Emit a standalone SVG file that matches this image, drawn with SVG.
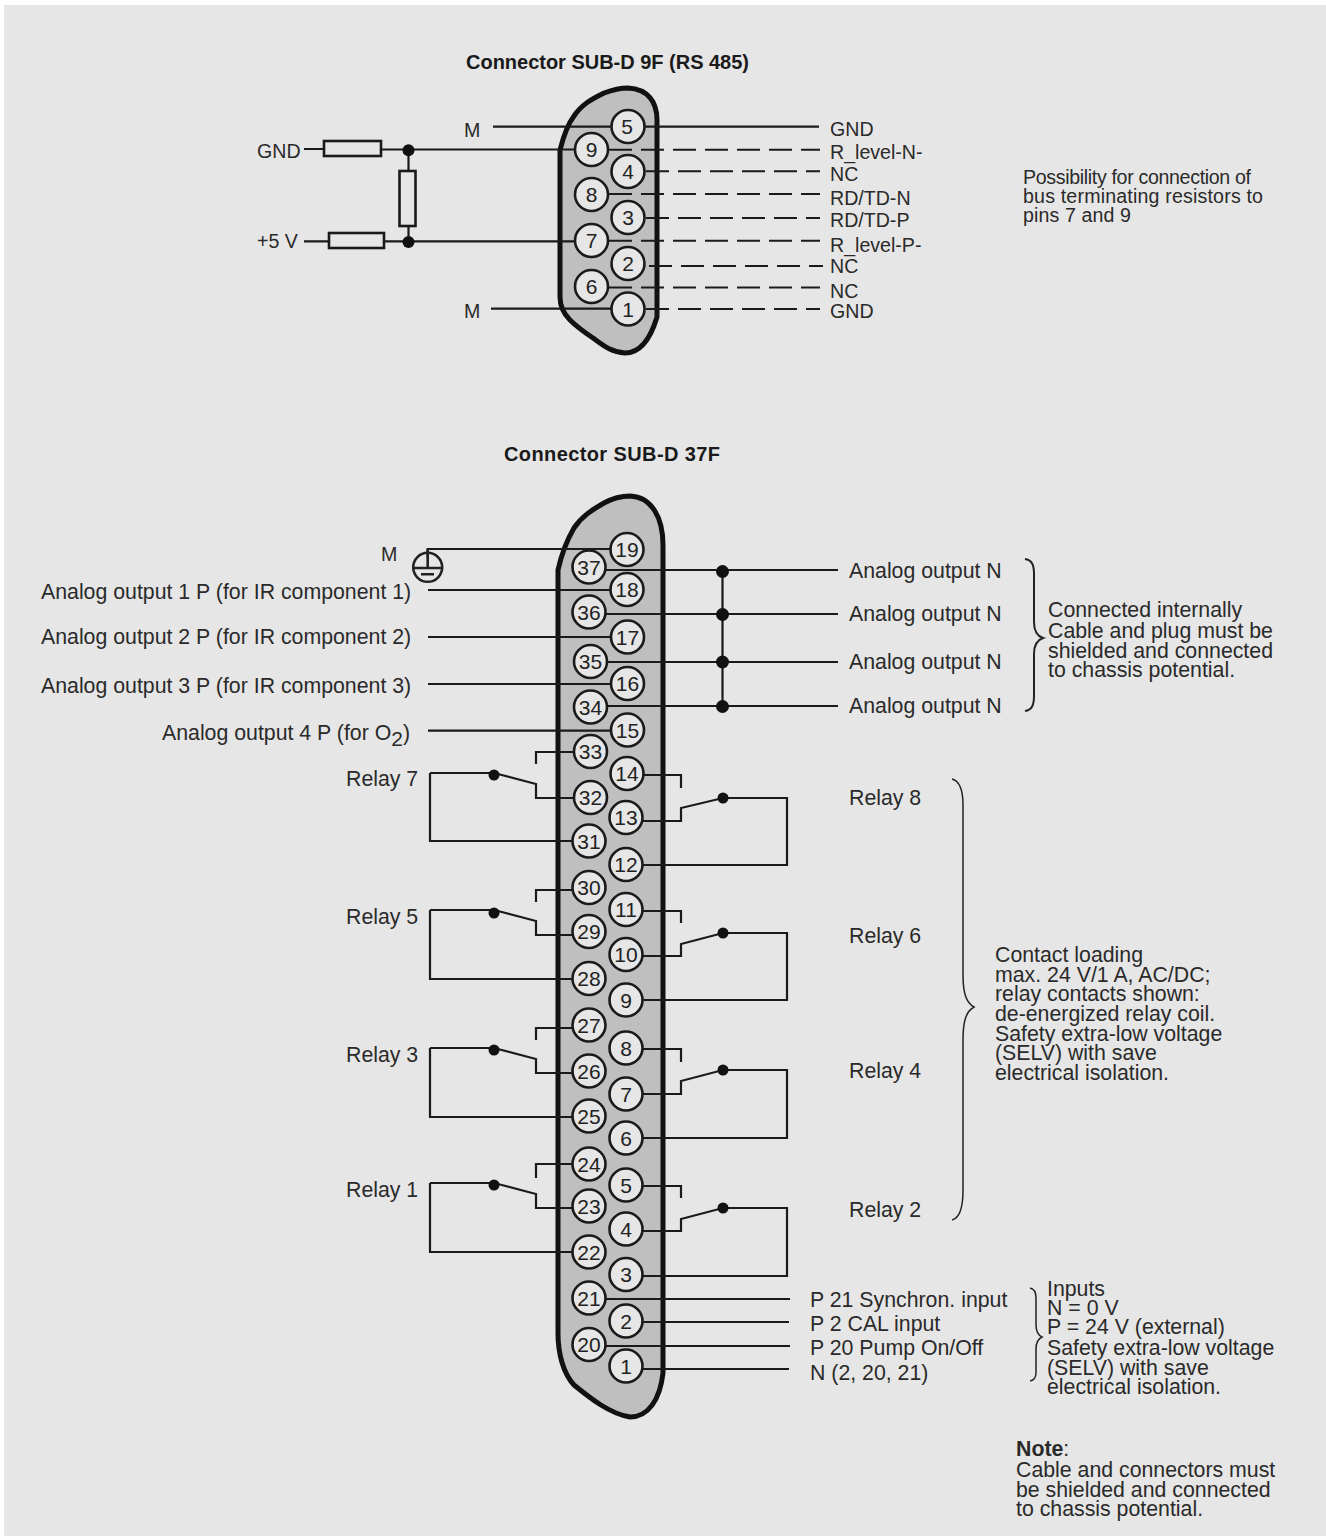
<svg xmlns="http://www.w3.org/2000/svg" width="1326" height="1536" viewBox="0 0 1326 1536">
<style>
text{font-family:"Liberation Sans",Arial,sans-serif;font-size:21.3px;fill:#2a2a2a}
.s{font-size:19.6px}
.t{font-weight:bold;font-size:20px;fill:#1a1a1a}
.n{font-size:21px;text-anchor:middle;fill:#222}
.pin{fill:#e6e6e6;stroke:#1a1a1a;stroke-width:2.6}
.body{fill:#bfbfbf;stroke:#111;stroke-width:5}
.w{fill:none;stroke:#1a1a1a;stroke-width:2.2}
.d{fill:none;stroke:#1a1a1a;stroke-width:2;stroke-dasharray:23 9}
.b{fill:none;stroke:#222;stroke-width:1.5}
.bb{fill:none;stroke:#222;stroke-width:2}
.r{fill:#e6e6e6;stroke:#1a1a1a;stroke-width:2.6}
.g{fill:none;stroke:#222;stroke-width:2.6}
.dot{fill:#111}
</style>
<rect x="4" y="5" width="1322" height="1531" fill="#e6e6e6"/>
<g id="titles">
<text class="t" x="466" y="69" textLength="283">Connector SUB-D 9F (RS 485)</text>
<text class="t" x="504" y="461" textLength="216">Connector SUB-D 37F</text>
</g>
<g id="body-9f"><path class="body" d="M560 150C564 134 568 124 574 116C582 104 592 99 604 93C612 90 620 88 628 88C648 89 657 102 657 120V317C651 337 642 353 625 353C611 352 604 346 593 338C584 332 577 327 570 320C563 313 560 305 560 297Z"/></g>
<g id="body-37f"><path class="body" d="M558 570C562 552 567 540 574 528C582 516 592 510 604 503C615 497 622 496 630 496C652 497 663 518 663 545V1373C660 1400 648 1417 630 1417C610 1414 590 1398 574 1385C563 1373 558 1353 558 1333Z"/></g>
<g id="connectors">
<path class="w" d="M304 149H323M381 149.500H575M408.500 149.500V172M408.500 226V241M304 241.300H328M384 241.300H575"/>
<path class="w" d="M493 126.700H612M491 308.700H612M644 126.700H819"/>
<g class="d">
<path d="M609 149.800H820"/>
<path d="M646 171.300H820"/>
<path d="M609 194H820"/>
<path d="M646 218H820"/>
<path d="M609 240.700H820"/>
<path d="M649 266H823"/>
<path d="M609 287.500H820"/>
<path d="M646 309H820"/>
</g>
<path class="w" d="M427.700 558V549H610M428 590H610M428 637H610M428 684H610M428 730.700H610"/>
<path class="w" d="M606 570H838M606 614H838M607 662H838M607 706H838M722.500 571V707"/>
<path class="w" d="M536 764V752H574M430 773H494L536 784V798H574M430 773V841H572"/>
<path class="w" d="M536 902V890H572M430 910H494L536 921V935H572M430 910V979H572"/>
<path class="w" d="M536 1040V1028H572M430 1048H494L536 1059V1073H572M430 1048V1117H572"/>
<path class="w" d="M536 1178V1164H572M430 1183H494L536 1194V1208H572M430 1183V1252H572"/>
<path class="w" d="M644 775H681V788M642 821H681V808L723 798H787V865H642"/>
<path class="w" d="M642 911H681V923M642 956H681V944L723 933H787V1000H642"/>
<path class="w" d="M642 1049H681V1062M642 1094H681V1081L723 1070H787V1138H642"/>
<path class="w" d="M642 1186H681V1198M642 1231H681V1219L723 1208H787V1276H642"/>
<path class="w" d="M605 1299H790M642 1322H789M605 1346H790M642 1369H789"/>
<g class="dot"><circle cx="408.500" cy="150.300" r="6"/><circle cx="408.500" cy="242" r="6"/>
<circle cx="722.500" cy="571.500" r="6.500"/><circle cx="722.500" cy="614.500" r="6.500"/><circle cx="722.500" cy="662" r="6.500"/><circle cx="722.500" cy="706.500" r="6.500"/>
<circle cx="494" cy="775" r="5.500"/><circle cx="494" cy="913" r="5.500"/><circle cx="494" cy="1050" r="5.500"/><circle cx="494" cy="1185" r="5.500"/>
<circle cx="723" cy="798" r="5.500"/><circle cx="723" cy="933" r="5.500"/><circle cx="723" cy="1070" r="5.500"/><circle cx="723" cy="1208" r="5.500"/></g>
</g>
<g id="resistors">
<rect class="r" x="324" y="141" width="57" height="15"/>
<rect class="r" x="329" y="233" width="55" height="15"/>
<rect class="r" x="399.500" y="171" width="16" height="55"/>
</g>
<g id="ground"><circle class="g" cx="427.700" cy="567.300" r="14.500"/><path class="g" d="M427.700 549V568M413 568H442M421 574.300H434"/></g>
<g id="pins-9f">
<g id="p9-5"><circle class="pin" cx="628" cy="126.500" r="16.500"/><text class="n" x="627" y="134">5</text></g>
<g id="p9-9"><circle class="pin" cx="591.500" cy="149.500" r="16.500"/><text class="n" x="591.500" y="157">9</text></g>
<g id="p9-4"><circle class="pin" cx="628" cy="171.500" r="16.500"/><text class="n" x="628" y="179">4</text></g>
<g id="p9-8"><circle class="pin" cx="591.500" cy="194.500" r="16.500"/><text class="n" x="591.500" y="202">8</text></g>
<g id="p9-3"><circle class="pin" cx="628" cy="217.500" r="16.500"/><text class="n" x="628" y="225">3</text></g>
<g id="p9-7"><circle class="pin" cx="591.500" cy="240.500" r="16.500"/><text class="n" x="591.500" y="248">7</text></g>
<g id="p9-2"><circle class="pin" cx="628" cy="263.500" r="16.500"/><text class="n" x="628" y="271">2</text></g>
<g id="p9-6"><circle class="pin" cx="591.500" cy="286.500" r="16.500"/><text class="n" x="591.500" y="294">6</text></g>
<g id="p9-1"><circle class="pin" cx="628" cy="309" r="16.500"/><text class="n" x="628" y="317">1</text></g>
</g>
<g id="pins-37f">
<g id="p19"><circle class="pin" cx="627" cy="549.500" r="16.500"/><text class="n" x="627" y="557">19</text></g>
<g id="p37"><circle class="pin" cx="589" cy="567" r="16.500"/><text class="n" x="589" y="574.500">37</text></g>
<g id="p18"><circle class="pin" cx="627" cy="589.500" r="16.500"/><text class="n" x="627" y="597">18</text></g>
<g id="p36"><circle class="pin" cx="589" cy="612" r="16.500"/><text class="n" x="589" y="619.500">36</text></g>
<g id="p17"><circle class="pin" cx="627.500" cy="637" r="16.500"/><text class="n" x="627.500" y="644.500">17</text></g>
<g id="p35"><circle class="pin" cx="590.500" cy="661.500" r="16.500"/><text class="n" x="590.500" y="669">35</text></g>
<g id="p16"><circle class="pin" cx="627.500" cy="683.500" r="16.500"/><text class="n" x="627.500" y="691">16</text></g>
<g id="p34"><circle class="pin" cx="590.500" cy="707" r="16.500"/><text class="n" x="590.500" y="714.500">34</text></g>
<g id="p15"><circle class="pin" cx="627.500" cy="730" r="16.500"/><text class="n" x="627.500" y="737.500">15</text></g>
<g id="p33"><circle class="pin" cx="590.500" cy="751.500" r="16.500"/><text class="n" x="590.500" y="759">33</text></g>
<g id="p14"><circle class="pin" cx="627" cy="773.500" r="16.500"/><text class="n" x="627" y="781">14</text></g>
<g id="p32"><circle class="pin" cx="590.500" cy="797.500" r="16.500"/><text class="n" x="590.500" y="805">32</text></g>
<g id="p13"><circle class="pin" cx="626" cy="817.500" r="16.500"/><text class="n" x="626" y="825">13</text></g>
<g id="p31"><circle class="pin" cx="589" cy="841" r="16.500"/><text class="n" x="589" y="848.500">31</text></g>
<g id="p12"><circle class="pin" cx="626" cy="864.500" r="16.500"/><text class="n" x="626" y="872">12</text></g>
<g id="p30"><circle class="pin" cx="589" cy="887.500" r="16.500"/><text class="n" x="589" y="895">30</text></g>
<g id="p11"><circle class="pin" cx="626" cy="909.500" r="16.500"/><text class="n" x="626" y="917">11</text></g>
<g id="p29"><circle class="pin" cx="589" cy="931.500" r="16.500"/><text class="n" x="589" y="939">29</text></g>
<g id="p10"><circle class="pin" cx="626" cy="954.500" r="16.500"/><text class="n" x="626" y="962">10</text></g>
<g id="p28"><circle class="pin" cx="589" cy="978.500" r="16.500"/><text class="n" x="589" y="986">28</text></g>
<g id="p9"><circle class="pin" cx="626" cy="1000" r="16.500"/><text class="n" x="626" y="1007.500">9</text></g>
<g id="p27"><circle class="pin" cx="589" cy="1025" r="16.500"/><text class="n" x="589" y="1032.500">27</text></g>
<g id="p8"><circle class="pin" cx="626" cy="1048" r="16.500"/><text class="n" x="626" y="1055.500">8</text></g>
<g id="p26"><circle class="pin" cx="589" cy="1071" r="16.500"/><text class="n" x="589" y="1078.500">26</text></g>
<g id="p7"><circle class="pin" cx="626" cy="1094" r="16.500"/><text class="n" x="626" y="1101.500">7</text></g>
<g id="p25"><circle class="pin" cx="589" cy="1116" r="16.500"/><text class="n" x="589" y="1123.500">25</text></g>
<g id="p6"><circle class="pin" cx="626" cy="1138" r="16.500"/><text class="n" x="626" y="1145.500">6</text></g>
<g id="p24"><circle class="pin" cx="589" cy="1164" r="16.500"/><text class="n" x="589" y="1171.500">24</text></g>
<g id="p5"><circle class="pin" cx="626" cy="1185" r="16.500"/><text class="n" x="626" y="1192.500">5</text></g>
<g id="p23"><circle class="pin" cx="589" cy="1206" r="16.500"/><text class="n" x="589" y="1213.500">23</text></g>
<g id="p4"><circle class="pin" cx="626" cy="1229" r="16.500"/><text class="n" x="626" y="1236.500">4</text></g>
<g id="p22"><circle class="pin" cx="589" cy="1252" r="16.500"/><text class="n" x="589" y="1259.500">22</text></g>
<g id="p3"><circle class="pin" cx="626" cy="1274.500" r="16.500"/><text class="n" x="626" y="1282">3</text></g>
<g id="p21"><circle class="pin" cx="589" cy="1298" r="16.500"/><text class="n" x="589" y="1305.500">21</text></g>
<g id="p2"><circle class="pin" cx="626" cy="1321" r="16.500"/><text class="n" x="626" y="1328.500">2</text></g>
<g id="p20"><circle class="pin" cx="589" cy="1344.500" r="16.500"/><text class="n" x="589" y="1352">20</text></g>
<g id="p1"><circle class="pin" cx="626" cy="1366" r="16.500"/><text class="n" x="626" y="1373.500">1</text></g>
</g>
<g id="braces">
<path class="bb" d="M1025 559C1032 560 1034 565 1034 574V622C1034 630 1037 636 1043 638C1037 640 1034 646 1034 654V696C1034 705 1032 710 1025 711"/>
<path class="b" d="M952 779C960 781 963 790 963 805V975C963 995 967 1003 974 1007C967 1011 963 1019 963 1039V1190C963 1208 960 1218 952 1220"/>
<path class="b" d="M1030 1288C1035 1289 1036 1293 1036 1298V1325C1036 1331 1038 1335 1042 1337C1038 1339 1036 1343 1036 1349V1372C1036 1377 1035 1380 1030 1381"/>
</g>
<g id="labels">
<text class="s" x="257" y="158">GND</text><text class="s" x="257" y="248">+5 V</text>
<text class="s" x="464" y="137">M</text><text class="s" x="464" y="318">M</text>
<text class="s" x="830" y="135.700">GND</text><text class="s" x="830" y="159">R_level-N-</text><text class="s" x="830" y="180.700">NC</text><text class="s" x="830" y="205">RD/TD-N</text><text class="s" x="830" y="227.300">RD/TD-P</text><text class="s" x="830" y="251.700">R_level-P-</text><text class="s" x="830" y="273">NC</text><text class="s" x="830" y="298">NC</text><text class="s" x="830" y="318">GND</text>
<text class="s" x="1023" y="184" textLength="228">Possibility for connection of</text><text class="s" x="1023" y="203" textLength="240">bus terminating resistors to</text><text class="s" x="1023" y="222" textLength="108">pins 7 and 9</text>
<text class="s" x="381" y="561">M</text>
<text x="41" y="599">Analog output 1 P (for IR component 1)</text>
<text x="41" y="644">Analog output 2 P (for IR component 2)</text>
<text x="41" y="693">Analog output 3 P (for IR component 3)</text>
<text x="162" y="740">Analog output 4 P (for O<tspan font-size="21" dy="6">2</tspan><tspan dy="-6">)</tspan></text>
<text x="849" y="578">Analog output N</text><text x="849" y="621">Analog output N</text><text x="849" y="669">Analog output N</text><text x="849" y="713">Analog output N</text>
<text x="1048" y="617">Connected internally</text><text x="1048" y="638">Cable and plug must be</text><text x="1048" y="658">shielded and connected</text><text x="1048" y="677">to chassis potential.</text>
<text x="346" y="786">Relay 7</text><text x="346" y="924">Relay 5</text><text x="346" y="1062">Relay 3</text><text x="346" y="1197">Relay 1</text>
<text x="849" y="805">Relay 8</text><text x="849" y="943">Relay 6</text><text x="849" y="1078">Relay 4</text><text x="849" y="1217">Relay 2</text>
<text x="995" y="962">Contact loading</text><text x="995" y="982">max. 24 V/1 A, AC/DC;</text><text x="995" y="1001">relay contacts shown:</text><text x="995" y="1021">de-energized relay coil.</text><text x="995" y="1041">Safety extra-low voltage</text><text x="995" y="1060">(SELV) with save</text><text x="995" y="1080">electrical isolation.</text>
<text x="810" y="1307">P 21 Synchron. input</text><text x="810" y="1331">P 2 CAL input</text><text x="810" y="1355">P 20 Pump On/Off</text><text x="810" y="1380">N (2, 20, 21)</text>
<text x="1047" y="1296">Inputs</text><text x="1047" y="1315">N = 0 V</text><text x="1047" y="1334">P = 24 V (external)</text><text x="1047" y="1355">Safety extra-low voltage</text><text x="1047" y="1375">(SELV) with save</text><text x="1047" y="1394">electrical isolation.</text>
<text x="1016" y="1456"><tspan font-weight="bold">Note</tspan>:</text><text x="1016" y="1477">Cable and connectors must</text><text x="1016" y="1497">be shielded and connected</text><text x="1016" y="1516">to chassis potential.</text>
</g>
</svg>
